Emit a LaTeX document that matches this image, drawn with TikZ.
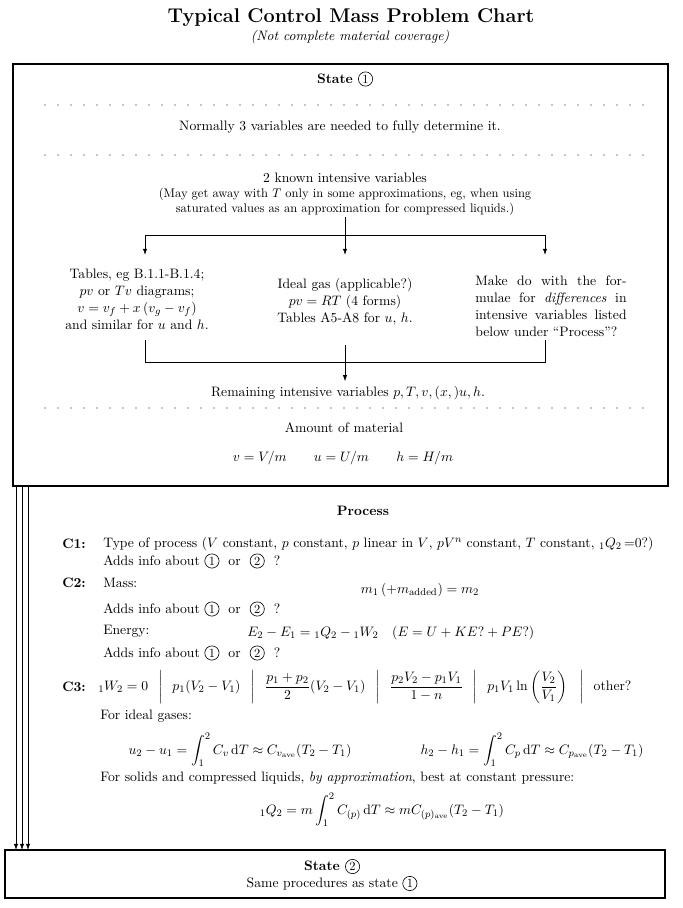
\documentclass[tikz,border=0pt,11pt]{standalone}
\usepackage{amsmath,amssymb}
\usepackage{tikz}
\usetikzlibrary{arrows.meta,positioning,calc}
\newcommand{\stnum}[1]{\tikz[baseline=(n.base)]\node[draw,circle,inner sep=1.1pt,font=\small\mdseries,line width=0.5pt](n){#1};}

\begin{document}
\begin{tikzpicture}[
  x=0.8pt, y=-0.8pt,
  txt/.style={align=center,inner sep=1pt},
  lft/.style={anchor=west,inner sep=0pt},
  para/.style={font={\fontsize{10.95}{13.6}\selectfont}},
  frame/.style={draw,line width=1pt},
  sep/.style={line width=0.9pt,dash pattern=on 0pt off 10.4pt,line cap=round},
  arrow/.style={-{Latex[length=5pt,width=3.5pt]},semithick}
]
\useasboundingbox (0,0) rectangle (683,908);

% heading
\node[font=\fontsize{15.9}{19}\selectfont\bfseries] (title) at (351,18) {Typical Control Mass Problem Chart};
\node[font=\itshape] (sub) at (350,37) {(Not complete material coverage)};

% state 1
\draw[frame] (13,64) rectangle (668,486);
\node[font=\bfseries] (st1) at (345,79) {State \stnum{1}};
\draw[sep] (45,105) -- (655,105);
\node (norm) at (340,127) {Normally 3 variables are needed to fully determine it.};
\draw[sep] (45,155) -- (655,155);
\node[txt] (known) at (345,194) {2 known intensive variables\\[-1pt]
  {\small (May get away with $T$ only in some approximations, eg, when using}\\[-2pt]
  {\small saturated values as an approximation for compressed liquids.)}};

\coordinate (fork) at (345,235);
\coordinate (tipL) at (145,255);
\coordinate (tipM) at (345,255);
\coordinate (tipR) at (545,255);
\draw[arrow] (known.south) -- (tipM);
\draw[arrow] (fork) -| (tipL);
\draw[arrow] (fork) -| (tipR);

\node[txt,para] (tables) at (137,299) {Tables, eg B.1.1-B.1.4;\\ $pv$ or $Tv$ diagrams;\\
  $v=v_f+x\,(v_g-v_f)$\\ and similar for $u$ and $h$.};
\node[txt,para] (ideal) at (345,302) {Ideal gas (applicable?)\\ $pv=RT$ (4 forms)\\
  Tables A5-A8 for $u$, $h$.};
\node[para,align=justify,text width=121pt,inner sep=0pt] (diff) at (551,306)
  {Make do with the for-\linebreak mulae for \emph{differences} in\linebreak
   intensive variables listed\linebreak below under ``Process''?};

\coordinate (bl) at (145,340);
\coordinate (br) at (545,340);
\coordinate (join) at (345,345);
\draw[semithick] (bl) -- ++(0,22) -| (br);
\node (remain) at (348,393) {Remaining intensive variables $p,T,v,(x,)u,h$.};
\draw[arrow] (join) -- (join |- remain.north);

\draw[sep] (45,408) -- (655,408);
\node (amount) at (344,428) {Amount of material};
\node (spec) at (343,458) {$v=V/m\qquad u=U/m\qquad h=H/m$};

% process
\node[font=\bfseries] (proc) at (363,511) {Process};
\node[lft,font=\bfseries] (c1) at (62,544) {C1:};
\node[lft] (type) at (103,544) {Type of process ($V$ constant, $p$ constant, $p$ linear in $V$,
  $pV^n$ constant, $T$ constant, ${}_1Q_2$\,=0?)};
\node[lft] (info1) at (103,561) {Adds info about \stnum{1} \ or \ \stnum{2} \ ?};
\node[lft,font=\bfseries] (c2) at (62,583) {C2:};
\node[lft] (mass) at (103,583) {Mass:};
\node (masseq) at (420,590) {$m_1\,(+m_{\mathrm{added}})=m_2$};
\node[lft] (info2) at (103,609) {Adds info about \stnum{1} \ or \ \stnum{2} \ ?};
\node[lft] (energy) at (103,631) {Energy:};
\node[lft] (energyeq) at (247,633) {$E_2-E_1={}_1Q_2-{}_1W_2\quad(E=U+KE?+PE?)$};
\node[lft] (info3) at (103,653) {Adds info about \stnum{1} \ or \ \stnum{2} \ ?};
\node[lft,font=\bfseries] (c3) at (62,687) {C3:};
\node[lft] (work) at (98,687) {$\displaystyle {}_1W_2=0\mkern13mu\bigg|\mkern13mu p_1(V_2-V_1)\mkern13mu\bigg|\mkern13mu
  \frac{p_1+p_2}{2}(V_2-V_1)\mkern13mu\bigg|\mkern13mu \frac{p_2V_2-p_1V_1}{1-n}\mkern13mu\bigg|\mkern13mu
  p_1V_1\ln\left(\frac{V_2}{V_1}\right)\mkern13mu\bigg|\mkern13mu\text{other?}$};
\node[lft] (gases) at (100,716) {For ideal gases:};
\node (du) at (240,750) {$\displaystyle u_2-u_1=\int_1^2 C_v\,\mathrm{d}T\approx C_{v_{\mathrm{ave}}}(T_2-T_1)$};
\node (dh) at (532,750) {$\displaystyle h_2-h_1=\int_1^2 C_p\,\mathrm{d}T\approx C_{p_{\mathrm{ave}}}(T_2-T_1)$};
\node[lft] (solids) at (100,778) {For solids and compressed liquids, \emph{by approximation}, best at constant pressure:};
\node (dq) at (382,810) {$\displaystyle {}_1Q_2=m\int_1^2 C_{(p)}\,\mathrm{d}T\approx mC_{(p)_{\mathrm{ave}}}(T_2-T_1)$};

% state 2
\draw[frame] (5,850) rectangle (665,898);
\node[txt] (st2) at (332,875) {\textbf{State \stnum{2}}\\ Same procedures as state \stnum{1}};
\foreach \i/\xx in {1/16,2/22,3/28}{
  \coordinate (out\i) at (\xx,486);
  \coordinate (in\i) at (\xx,850);
  \draw[arrow] (out\i) -- (in\i);
}
\end{tikzpicture}
\end{document}
